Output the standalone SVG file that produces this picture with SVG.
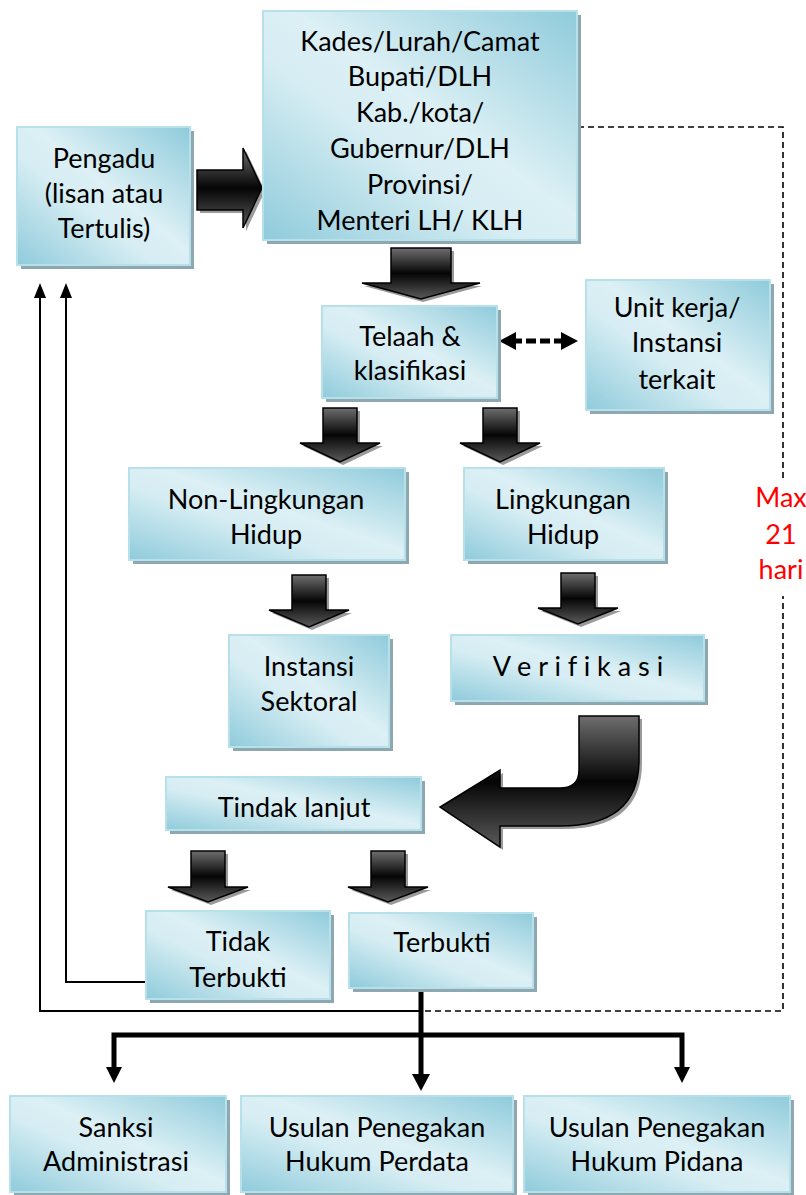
<svg xmlns="http://www.w3.org/2000/svg" width="806" height="1195" viewBox="0 0 806 1195">
<defs>
<linearGradient id="bg" x1="1" y1="0" x2="0" y2="1">
<stop offset="0" stop-color="#8fcbdb"/>
<stop offset="0.45" stop-color="#dcf0f5"/>
<stop offset="0.6" stop-color="#d6edf3"/>
<stop offset="1" stop-color="#8fcbdb"/>
</linearGradient>
<linearGradient id="ag" x1="0" y1="0" x2="0" y2="1">
<stop offset="0" stop-color="#6e6e6e"/>
<stop offset="0.5" stop-color="#050505"/>
<stop offset="1" stop-color="#5a5a5a"/>
</linearGradient>
<clipPath id="tlclip"><rect x="160" y="770" width="270" height="50"/></clipPath>
</defs>
<style>
.sh{fill:#8ea8b1}
.box{fill:url(#bg);stroke:#b8e0ea;stroke-width:2}
.t{font-family:Lato,"Open Sans",sans-serif;font-size:27px;fill:#000;text-anchor:middle}
.red{fill:#ff0000}
.ba{fill:url(#ag);stroke:#000;stroke-width:1.5;stroke-linejoin:miter}
.bs{fill:#9a9a9a}
.thin{fill:none;stroke:#000;stroke-width:2}
.dash{fill:none;stroke:#000;stroke-width:1.6;stroke-dasharray:6,4}
.thick{fill:none;stroke:#000;stroke-width:5}
</style>

<g id="connectors">
<g id="arrow-pengadu-kades">
<polygon class="bs" points="200,173 246,173 246,151 265,191 246,231 246,213 200,213"/>
<polygon class="ba" points="197,170 243,170 243,148 262,188 243,228 243,210 197,210"/>
</g>
<g id="arrow-kades-telaah">
<polygon class="bs" points="394,251 454,251 454,286 482,286 423,302 364,286 394,286"/>
<polygon class="ba" points="391,248 451,248 451,283 480,283 421,299 362,283 391,283"/>
</g>
<g id="arrow-telaah-non">
<polygon class="bs" points="326,411 360,411 360,446 383,446 343,465 303,446 326,446"/>
<polygon class="ba" points="323,408 357,408 357,443 380,443 340,462 300,443 323,443"/>
</g>
<g id="arrow-telaah-ling">
<polygon class="bs" points="486,411 520,411 520,446 543,446 503,465 463,446 486,446"/>
<polygon class="ba" points="483,408 517,408 517,443 540,443 500,462 460,443 483,443"/>
</g>
<g id="arrow-non-instansi">
<polygon class="bs" points="295,578 329,578 329,613 352,613 312,630 272,613 295,613"/>
<polygon class="ba" points="292,575 326,575 326,610 349,610 309,627 269,610 292,610"/>
</g>
<g id="arrow-ling-verif">
<polygon class="bs" points="564,576 598,576 598,611 621,611 581,627 541,611 564,611"/>
<polygon class="ba" points="561,573 595,573 595,608 618,608 578,624 538,608 561,608"/>
</g>
<g id="arrow-verif-tindak">
<path class="bs" d="M582,719 L642,719 L642,763 Q642,829 563,829 L503,829 L503,850 L443,810 L503,773 L503,791 L563,791 Q582,791 582,773 Z"/>
<path class="ba" d="M579,716 L639,716 L639,760 Q639,826 560,826 L500,826 L500,847 L440,807 L500,770 L500,788 L560,788 Q579,788 579,770 Z"/>
</g>
<g id="arrow-tindak-tidak">
<polygon class="bs" points="194,854 228,854 228,890 251,890 211,905 171,890 194,890"/>
<polygon class="ba" points="191,851 225,851 225,887 248,887 208,902 168,887 191,887"/>
</g>
<g id="arrow-tindak-terbukti">
<polygon class="bs" points="374,854 408,854 408,890 431,890 391,905 351,890 374,890"/>
<polygon class="ba" points="371,851 405,851 405,887 428,887 388,902 348,887 371,887"/>
</g>
<g id="arrow-telaah-unit">
<line x1="512" y1="341" x2="566" y2="341" stroke="#000" stroke-width="5" stroke-dasharray="10,4"/>
<polygon points="499,341 516,332 516,350" fill="#000"/>
<polygon points="578,341 561,332 561,350" fill="#000"/>
</g>
<path class="thin" d="M421,1011 L40,1011 L40,292"/>
<polygon points="40,283 34,298 46,298" fill="#000"/>
<path class="thin" d="M147,982 L66,982 L66,292"/>
<polygon points="66,283 60,298 72,298" fill="#000"/>
<path class="dash" d="M425,1011 L783,1011 L783,596"/>
<path class="dash" d="M783,478 L783,127 L580,127"/>
<path class="thick" d="M421,988 L421,1076"/>
<polygon points="421,1091 412,1074 430,1074" fill="#000"/>
<path class="thick" d="M114,1070 L114,1035 L682,1035 L682,1070"/>
<polygon points="114,1083 106,1067 122,1067" fill="#000"/>
<polygon points="682,1083 674,1067 690,1067" fill="#000"/>
</g>

<g id="n-pengadu">
<rect class="sh" x="21" y="131" width="173" height="138"/>
<rect class="box" x="17" y="127" width="173" height="138"/>
<text class="t" x="104" y="168">Pengadu</text>
<text class="t" x="104" y="203">(lisan atau</text>
<text class="t" x="104" y="238">Tertulis)</text>
</g>
<g id="n-kades">
<rect class="sh" x="267" y="15" width="314" height="229"/>
<rect class="box" x="263" y="11" width="314" height="229"/>
<text class="t" x="420" y="51">Kades/Lurah/Camat</text>
<text class="t" x="420" y="86">Bupati/DLH</text>
<text class="t" x="420" y="122">Kab./kota/</text>
<text class="t" x="420" y="158">Gubernur/DLH</text>
<text class="t" x="420" y="194">Provinsi/</text>
<text class="t" x="420" y="230">Menteri LH/ KLH</text>
</g>
<g id="n-telaah">
<rect class="sh" x="326" y="310" width="175" height="92"/>
<rect class="box" x="322" y="306" width="175" height="92"/>
<text class="t" x="410" y="346">Telaah &amp;</text>
<text class="t" x="410" y="380">klasifikasi</text>
</g>
<g id="n-unit">
<rect class="sh" x="590" y="284" width="184" height="130"/>
<rect class="box" x="586" y="280" width="184" height="130"/>
<text class="t" x="677" y="317">Unit kerja/</text>
<text class="t" x="677" y="352">Instansi</text>
<text class="t" x="677" y="389">terkait</text>
</g>
<g id="n-nonling">
<rect class="sh" x="133" y="472" width="276" height="92"/>
<rect class="box" x="129" y="468" width="276" height="92"/>
<text class="t" x="266" y="509">Non-Lingkungan</text>
<text class="t" x="266" y="544">Hidup</text>
</g>
<g id="n-ling">
<rect class="sh" x="468" y="472" width="200" height="92"/>
<rect class="box" x="464" y="468" width="200" height="92"/>
<text class="t" x="563" y="509">Lingkungan</text>
<text class="t" x="563" y="544">Hidup</text>
</g>
<g id="n-max">
<text class="t red" x="781" y="507">Max</text>
<text class="t red" x="781" y="544">21</text>
<text class="t red" x="781" y="579">hari</text>
</g>
<g id="n-instansi">
<rect class="sh" x="233" y="639" width="160" height="112"/>
<rect class="box" x="229" y="635" width="160" height="112"/>
<text class="t" x="309" y="676">Instansi</text>
<text class="t" x="309" y="711">Sektoral</text>
</g>
<g id="n-verif">
<rect class="sh" x="455" y="639" width="253" height="66"/>
<rect class="box" x="451" y="635" width="253" height="66"/>
<text class="t" x="578" y="676">V e r i f i k a s i</text>
</g>
<g id="n-tindak">
<rect class="sh" x="170" y="781" width="255" height="53"/>
<rect class="box" x="166" y="777" width="255" height="53"/>
<text class="t" x="294" y="817" clip-path="url(#tlclip)">Tindak lanjut</text>
</g>
<g id="n-tidak">
<rect class="sh" x="150" y="915" width="184" height="88"/>
<rect class="box" x="146" y="911" width="184" height="88"/>
<text class="t" x="238" y="951">Tidak</text>
<text class="t" x="238" y="987">Terbukti</text>
</g>
<g id="n-terbukti">
<rect class="sh" x="353" y="917" width="184" height="75"/>
<rect class="box" x="349" y="913" width="184" height="75"/>
<text class="t" x="442" y="952">Terbukti</text>
</g>
<g id="n-sanksi">
<rect class="sh" x="14" y="1100" width="216" height="96"/>
<rect class="box" x="10" y="1096" width="216" height="96"/>
<text class="t" x="116" y="1137">Sanksi</text>
<text class="t" x="116" y="1171">Administrasi</text>
</g>
<g id="n-perdata">
<rect class="sh" x="245" y="1100" width="272" height="96"/>
<rect class="box" x="241" y="1096" width="272" height="96"/>
<text class="t" x="377" y="1137">Usulan Penegakan</text>
<text class="t" x="377" y="1171">Hukum Perdata</text>
</g>
<g id="n-pidana">
<rect class="sh" x="528" y="1100" width="266" height="96"/>
<rect class="box" x="524" y="1096" width="266" height="96"/>
<text class="t" x="657" y="1137">Usulan Penegakan</text>
<text class="t" x="657" y="1171">Hukum Pidana</text>
</g>
</svg>
